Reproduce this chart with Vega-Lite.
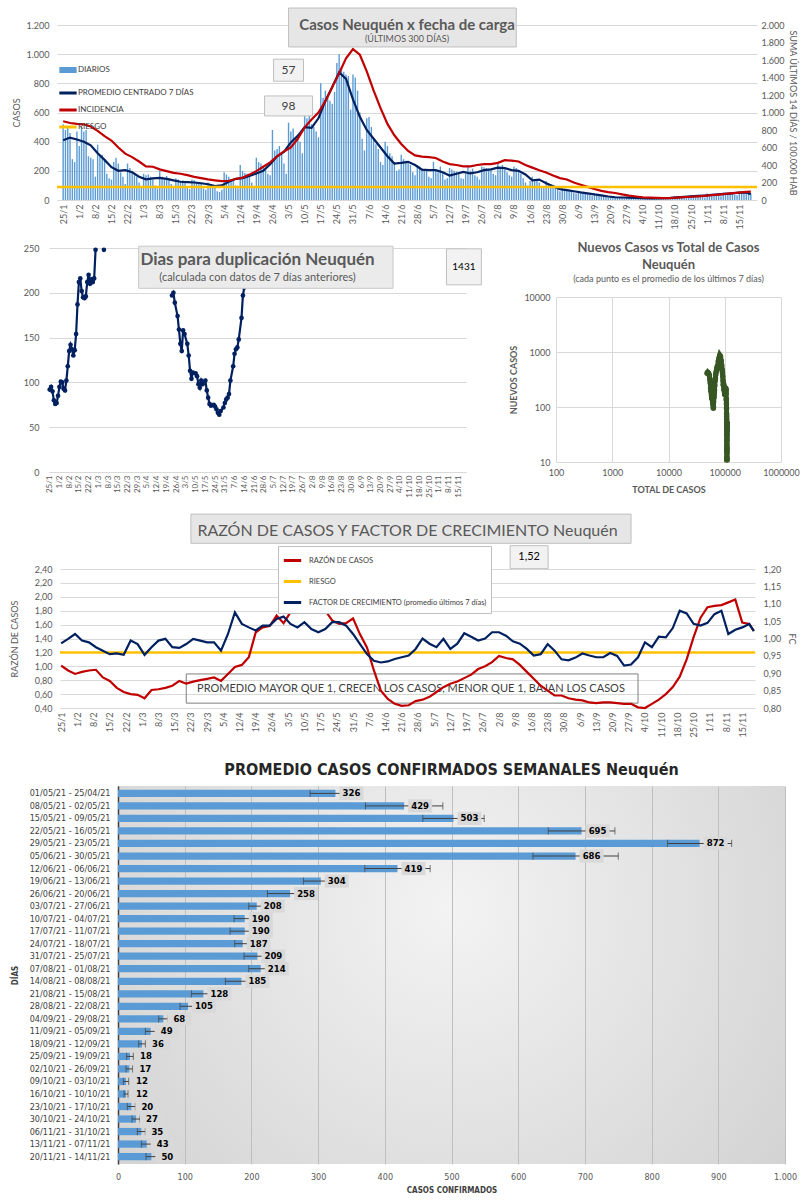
{
"$schema": "https://vega.github.io/schema/vega-lite/v6.json",
"background": "white",
"padding": {"left": 0, "top": 7, "right": 0, "bottom": 0},
"config": {
  "locale": {"number": {"decimal": ",", "thousands": ".", "grouping": [3], "currency": ["$", ""]}},
  "font": "Lato",
  "view": {"stroke": null},
  "axis": {"labelFont": "Lato", "titleFont": "Lato", "labelColor": "#595959", "titleColor": "#595959", "labelFontSize": 9, "titleFontSize": 9, "titleFontWeight": "normal", "gridColor": "#d9d9d9", "domainColor": "#d9d9d9", "ticks": false, "tickCount": 100},
  "legend": {"labelFont": "Lato"},
  "title": {"font": "Lato", "subtitleFont": "Lato", "color": "#595959", "subtitleColor": "#595959"},
  "text": {"font": "Lato"}
},
"datasets": {
"bars": [
{"d":"2021-01-25","c":520},{"d":"2021-01-26","c":480},{"d":"2021-01-27","c":500},{"d":"2021-01-28","c":460},{"d":"2021-01-29","c":280},{"d":"2021-01-30","c":260},{"d":"2021-01-31","c":470},
{"d":"2021-02-01","c":370},{"d":"2021-02-02","c":500},{"d":"2021-02-03","c":470},{"d":"2021-02-04","c":480},{"d":"2021-02-05","c":300},{"d":"2021-02-06","c":290},{"d":"2021-02-07","c":280},
{"d":"2021-02-08","c":160},{"d":"2021-02-09","c":380},{"d":"2021-02-10","c":300},{"d":"2021-02-11","c":310},{"d":"2021-02-12","c":280},{"d":"2021-02-13","c":180},{"d":"2021-02-14","c":150},
{"d":"2021-02-15","c":140},{"d":"2021-02-16","c":260},{"d":"2021-02-17","c":290},{"d":"2021-02-18","c":250},{"d":"2021-02-19","c":190},{"d":"2021-02-20","c":160},{"d":"2021-02-21","c":110},
{"d":"2021-02-22","c":250},{"d":"2021-02-23","c":220},{"d":"2021-02-24","c":200},{"d":"2021-02-25","c":170},{"d":"2021-02-26","c":160},{"d":"2021-02-27","c":120},{"d":"2021-02-28","c":90},
{"d":"2021-03-01","c":180},{"d":"2021-03-02","c":170},{"d":"2021-03-03","c":175},{"d":"2021-03-04","c":160},{"d":"2021-03-05","c":140},{"d":"2021-03-06","c":100},{"d":"2021-03-07","c":80},
{"d":"2021-03-08","c":200},{"d":"2021-03-09","c":160},{"d":"2021-03-10","c":150},{"d":"2021-03-11","c":165},{"d":"2021-03-12","c":150},{"d":"2021-03-13","c":110},{"d":"2021-03-14","c":90},
{"d":"2021-03-15","c":150},{"d":"2021-03-16","c":140},{"d":"2021-03-17","c":130},{"d":"2021-03-18","c":135},{"d":"2021-03-19","c":120},{"d":"2021-03-20","c":95},{"d":"2021-03-21","c":75},
{"d":"2021-03-22","c":140},{"d":"2021-03-23","c":135},{"d":"2021-03-24","c":125},{"d":"2021-03-25","c":120},{"d":"2021-03-26","c":110},{"d":"2021-03-27","c":80},{"d":"2021-03-28","c":70},
{"d":"2021-03-29","c":120},{"d":"2021-03-30","c":110},{"d":"2021-03-31","c":105},{"d":"2021-04-01","c":90},{"d":"2021-04-02","c":60},{"d":"2021-04-03","c":55},{"d":"2021-04-04","c":70},
{"d":"2021-04-05","c":190},{"d":"2021-04-06","c":175},{"d":"2021-04-07","c":160},{"d":"2021-04-08","c":130},{"d":"2021-04-09","c":140},{"d":"2021-04-10","c":100},{"d":"2021-04-11","c":80},
{"d":"2021-04-12","c":240},{"d":"2021-04-13","c":200},{"d":"2021-04-14","c":185},{"d":"2021-04-15","c":180},{"d":"2021-04-16","c":160},{"d":"2021-04-17","c":120},{"d":"2021-04-18","c":90},
{"d":"2021-04-19","c":290},{"d":"2021-04-20","c":260},{"d":"2021-04-21","c":250},{"d":"2021-04-22","c":230},{"d":"2021-04-23","c":220},{"d":"2021-04-24","c":180},{"d":"2021-04-25","c":170},
{"d":"2021-04-26","c":480},{"d":"2021-04-27","c":340},{"d":"2021-04-28","c":350},{"d":"2021-04-29","c":370},{"d":"2021-04-30","c":320},{"d":"2021-05-01","c":250},{"d":"2021-05-02","c":180},
{"d":"2021-05-03","c":530},{"d":"2021-05-04","c":470},{"d":"2021-05-05","c":490},{"d":"2021-05-06","c":420},{"d":"2021-05-07","c":450},{"d":"2021-05-08","c":400},{"d":"2021-05-09","c":320},
{"d":"2021-05-10","c":600},{"d":"2021-05-11","c":560},{"d":"2021-05-12","c":580},{"d":"2021-05-13","c":520},{"d":"2021-05-14","c":500},{"d":"2021-05-15","c":470},{"d":"2021-05-16","c":430},
{"d":"2021-05-17","c":800},{"d":"2021-05-18","c":700},{"d":"2021-05-19","c":750},{"d":"2021-05-20","c":720},{"d":"2021-05-21","c":680},{"d":"2021-05-22","c":660},{"d":"2021-05-23","c":740},
{"d":"2021-05-24","c":940},{"d":"2021-05-25","c":1000},{"d":"2021-05-26","c":910},{"d":"2021-05-27","c":880},{"d":"2021-05-28","c":860},{"d":"2021-05-29","c":850},{"d":"2021-05-30","c":620},
{"d":"2021-05-31","c":860},{"d":"2021-06-01","c":840},{"d":"2021-06-02","c":750},{"d":"2021-06-03","c":600},{"d":"2021-06-04","c":420},{"d":"2021-06-05","c":340},{"d":"2021-06-06","c":560},
{"d":"2021-06-07","c":570},{"d":"2021-06-08","c":500},{"d":"2021-06-09","c":420},{"d":"2021-06-10","c":380},{"d":"2021-06-11","c":350},{"d":"2021-06-12","c":260},{"d":"2021-06-13","c":240},
{"d":"2021-06-14","c":400},{"d":"2021-06-15","c":370},{"d":"2021-06-16","c":320},{"d":"2021-06-17","c":300},{"d":"2021-06-18","c":260},{"d":"2021-06-19","c":200},{"d":"2021-06-20","c":210},
{"d":"2021-06-21","c":310},{"d":"2021-06-22","c":280},{"d":"2021-06-23","c":270},{"d":"2021-06-24","c":250},{"d":"2021-06-25","c":240},{"d":"2021-06-26","c":190},{"d":"2021-06-27","c":170},
{"d":"2021-06-28","c":240},{"d":"2021-06-29","c":230},{"d":"2021-06-30","c":215},{"d":"2021-07-01","c":210},{"d":"2021-07-02","c":200},{"d":"2021-07-03","c":160},{"d":"2021-07-04","c":150},
{"d":"2021-07-05","c":260},{"d":"2021-07-06","c":210},{"d":"2021-07-07","c":190},{"d":"2021-07-08","c":230},{"d":"2021-07-09","c":185},{"d":"2021-07-10","c":140},{"d":"2021-07-11","c":150},
{"d":"2021-07-12","c":220},{"d":"2021-07-13","c":210},{"d":"2021-07-14","c":200},{"d":"2021-07-15","c":195},{"d":"2021-07-16","c":190},{"d":"2021-07-17","c":150},{"d":"2021-07-18","c":145},
{"d":"2021-07-19","c":180},{"d":"2021-07-20","c":240},{"d":"2021-07-21","c":200},{"d":"2021-07-22","c":215},{"d":"2021-07-23","c":170},{"d":"2021-07-24","c":160},{"d":"2021-07-25","c":140},
{"d":"2021-07-26","c":230},{"d":"2021-07-27","c":225},{"d":"2021-07-28","c":220},{"d":"2021-07-29","c":215},{"d":"2021-07-30","c":205},{"d":"2021-07-31","c":180},{"d":"2021-08-01","c":170},
{"d":"2021-08-02","c":250},{"d":"2021-08-03","c":220},{"d":"2021-08-04","c":240},{"d":"2021-08-05","c":210},{"d":"2021-08-06","c":190},{"d":"2021-08-07","c":170},{"d":"2021-08-08","c":160},
{"d":"2021-08-09","c":230},{"d":"2021-08-10","c":220},{"d":"2021-08-11","c":200},{"d":"2021-08-12","c":180},{"d":"2021-08-13","c":150},{"d":"2021-08-14","c":120},{"d":"2021-08-15","c":100},
{"d":"2021-08-16","c":130},{"d":"2021-08-17","c":160},{"d":"2021-08-18","c":140},{"d":"2021-08-19","c":130},{"d":"2021-08-20","c":120},{"d":"2021-08-21","c":95},{"d":"2021-08-22","c":85},
{"d":"2021-08-23","c":130},{"d":"2021-08-24","c":115},{"d":"2021-08-25","c":110},{"d":"2021-08-26","c":105},{"d":"2021-08-27","c":90},{"d":"2021-08-28","c":75},{"d":"2021-08-29","c":60},
{"d":"2021-08-30","c":80},{"d":"2021-08-31","c":75},{"d":"2021-09-01","c":70},{"d":"2021-09-02","c":65},{"d":"2021-09-03","c":60},{"d":"2021-09-04","c":50},{"d":"2021-09-05","c":45},
{"d":"2021-09-06","c":60},{"d":"2021-09-07","c":55},{"d":"2021-09-08","c":50},{"d":"2021-09-09","c":48},{"d":"2021-09-10","c":45},{"d":"2021-09-11","c":35},{"d":"2021-09-12","c":30},
{"d":"2021-09-13","c":45},{"d":"2021-09-14","c":40},{"d":"2021-09-15","c":36},{"d":"2021-09-16","c":33},{"d":"2021-09-17","c":30},{"d":"2021-09-18","c":22},{"d":"2021-09-19","c":18},
{"d":"2021-09-20","c":24},{"d":"2021-09-21","c":22},{"d":"2021-09-22","c":19},{"d":"2021-09-23","c":18},{"d":"2021-09-24","c":16},{"d":"2021-09-25","c":12},{"d":"2021-09-26","c":10},
{"d":"2021-09-27","c":22},{"d":"2021-09-28","c":20},{"d":"2021-09-29","c":18},{"d":"2021-09-30","c":16},{"d":"2021-10-01","c":14},{"d":"2021-10-02","c":10},{"d":"2021-10-03","c":9},
{"d":"2021-10-04","c":16},{"d":"2021-10-05","c":14},{"d":"2021-10-06","c":13},{"d":"2021-10-07","c":12},{"d":"2021-10-08","c":11},{"d":"2021-10-09","c":8},{"d":"2021-10-10","c":7},
{"d":"2021-10-11","c":10},{"d":"2021-10-12","c":15},{"d":"2021-10-13","c":14},{"d":"2021-10-14","c":13},{"d":"2021-10-15","c":12},{"d":"2021-10-16","c":9},{"d":"2021-10-17","c":10},
{"d":"2021-10-18","c":25},{"d":"2021-10-19","c":24},{"d":"2021-10-20","c":22},{"d":"2021-10-21","c":21},{"d":"2021-10-22","c":19},{"d":"2021-10-23","c":15},{"d":"2021-10-24","c":14},
{"d":"2021-10-25","c":34},{"d":"2021-10-26","c":32},{"d":"2021-10-27","c":30},{"d":"2021-10-28","c":28},{"d":"2021-10-29","c":26},{"d":"2021-10-30","c":20},{"d":"2021-10-31","c":18},
{"d":"2021-11-01","c":44},{"d":"2021-11-02","c":42},{"d":"2021-11-03","c":38},{"d":"2021-11-04","c":36},{"d":"2021-11-05","c":34},{"d":"2021-11-06","c":28},{"d":"2021-11-07","c":25},
{"d":"2021-11-08","c":54},{"d":"2021-11-09","c":52},{"d":"2021-11-10","c":48},{"d":"2021-11-11","c":45},{"d":"2021-11-12","c":42},{"d":"2021-11-13","c":35},{"d":"2021-11-14","c":32},
{"d":"2021-11-15","c":60},{"d":"2021-11-16","c":58},{"d":"2021-11-17","c":54},{"d":"2021-11-18","c":50},{"d":"2021-11-19","c":46},{"d":"2021-11-20","c":40}
],
"ser": [
{"d":"2021-01-25","p":410,"i":900,"t":48400,"r":1.01,"f":0.986},
{"d":"2021-01-28","p":428,"i":880,"t":49660,"r":0.94,"f":0.999},
{"d":"2021-01-31","p":415,"i":870,"t":50920,"r":0.89,"f":1.013},
{"d":"2021-02-03","p":400,"i":865,"t":52140,"r":0.92,"f":0.994},
{"d":"2021-02-06","p":375,"i":840,"t":53310,"r":0.94,"f":0.989},
{"d":"2021-02-09","p":320,"i":790,"t":54350,"r":0.95,"f":0.975},
{"d":"2021-02-12","p":275,"i":730,"t":55240,"r":0.84,"f":0.965},
{"d":"2021-02-15","p":225,"i":680,"t":55990,"r":0.79,"f":0.955},
{"d":"2021-02-18","p":200,"i":600,"t":56630,"r":0.69,"f":0.957},
{"d":"2021-02-21","p":205,"i":530,"t":57240,"r":0.63,"f":0.953},
{"d":"2021-02-24","p":190,"i":490,"t":57830,"r":0.60,"f":0.994},
{"d":"2021-02-27","p":160,"i":440,"t":58360,"r":0.59,"f":0.984},
{"d":"2021-03-02","p":142,"i":385,"t":58810,"r":0.54,"f":0.953},
{"d":"2021-03-05","p":148,"i":380,"t":59240,"r":0.66,"f":0.975},
{"d":"2021-03-08","p":152,"i":350,"t":59690,"r":0.67,"f":0.994},
{"d":"2021-03-11","p":145,"i":330,"t":60140,"r":0.69,"f":0.999},
{"d":"2021-03-14","p":135,"i":310,"t":60560,"r":0.72,"f":0.975},
{"d":"2021-03-17","p":125,"i":300,"t":60950,"r":0.79,"f":0.973},
{"d":"2021-03-20","p":122,"i":285,"t":61320,"r":0.75,"f":0.984},
{"d":"2021-03-23","p":120,"i":265,"t":61680,"r":0.78,"f":0.999},
{"d":"2021-03-26","p":115,"i":250,"t":62040,"r":0.80,"f":0.994},
{"d":"2021-03-29","p":108,"i":235,"t":62370,"r":0.82,"f":0.989},
{"d":"2021-04-01","p":95,"i":225,"t":62680,"r":0.84,"f":0.989},
{"d":"2021-04-04","p":100,"i":215,"t":62970,"r":0.79,"f":0.965},
{"d":"2021-04-07","p":125,"i":220,"t":63310,"r":0.89,"f":1.013},
{"d":"2021-04-10","p":145,"i":240,"t":63710,"r":0.99,"f":1.075},
{"d":"2021-04-13","p":150,"i":255,"t":64160,"r":1.02,"f":1.042},
{"d":"2021-04-16","p":165,"i":290,"t":64630,"r":1.13,"f":1.032},
{"d":"2021-04-19","p":182,"i":330,"t":65150,"r":1.49,"f":1.023},
{"d":"2021-04-22","p":200,"i":380,"t":65720,"r":1.56,"f":1.037},
{"d":"2021-04-25","p":245,"i":430,"t":66390,"r":1.58,"f":1.037},
{"d":"2021-04-28","p":300,"i":500,"t":67210,"r":1.73,"f":1.056},
{"d":"2021-05-01","p":330,"i":555,"t":68150,"r":1.62,"f":1.063},
{"d":"2021-05-04","p":395,"i":600,"t":69240,"r":1.78,"f":1.042},
{"d":"2021-05-07","p":440,"i":700,"t":70490,"r":1.90,"f":1.032},
{"d":"2021-05-10","p":500,"i":830,"t":71900,"r":1.95,"f":1.047},
{"d":"2021-05-13","p":495,"i":920,"t":73400,"r":1.82,"f":1.027},
{"d":"2021-05-16","p":560,"i":1000,"t":74980,"r":1.78,"f":1.018},
{"d":"2021-05-19","p":680,"i":1130,"t":76840,"r":1.80,"f":1.027},
{"d":"2021-05-22","p":775,"i":1290,"t":79020,"r":1.66,"f":1.047},
{"d":"2021-05-25","p":875,"i":1450,"t":81500,"r":1.61,"f":1.047},
{"d":"2021-05-28","p":830,"i":1620,"t":84060,"r":1.62,"f":1.037},
{"d":"2021-05-31","p":690,"i":1725,"t":86340,"r":1.69,"f":1.013},
{"d":"2021-06-03","p":570,"i":1660,"t":88230,"r":1.46,"f":0.984},
{"d":"2021-06-06","p":480,"i":1470,"t":89800,"r":1.27,"f":0.955},
{"d":"2021-06-09","p":420,"i":1250,"t":91150,"r":0.94,"f":0.936},
{"d":"2021-06-12","p":360,"i":1050,"t":92320,"r":0.65,"f":0.931},
{"d":"2021-06-15","p":300,"i":870,"t":93310,"r":0.53,"f":0.934},
{"d":"2021-06-18","p":250,"i":740,"t":94140,"r":0.46,"f":0.941},
{"d":"2021-06-21","p":255,"i":640,"t":94890,"r":0.43,"f":0.946},
{"d":"2021-06-24","p":262,"i":560,"t":95670,"r":0.44,"f":0.951},
{"d":"2021-06-27","p":240,"i":510,"t":96420,"r":0.50,"f":0.970},
{"d":"2021-06-30","p":208,"i":495,"t":97090,"r":0.52,"f":1.000},
{"d":"2021-07-03","p":205,"i":490,"t":97710,"r":0.56,"f":0.985},
{"d":"2021-07-06","p":205,"i":480,"t":98330,"r":0.63,"f":0.975},
{"d":"2021-07-09","p":190,"i":440,"t":98920,"r":0.70,"f":0.999},
{"d":"2021-07-12","p":168,"i":410,"t":99460,"r":0.75,"f":0.970},
{"d":"2021-07-15","p":180,"i":400,"t":99980,"r":0.78,"f":0.985},
{"d":"2021-07-18","p":192,"i":385,"t":100540,"r":0.83,"f":1.015},
{"d":"2021-07-21","p":182,"i":385,"t":101100,"r":0.88,"f":1.005},
{"d":"2021-07-24","p":190,"i":400,"t":101660,"r":0.96,"f":0.994},
{"d":"2021-07-27","p":205,"i":410,"t":102250,"r":1.00,"f":1.000},
{"d":"2021-07-30","p":210,"i":410,"t":102870,"r":1.06,"f":1.018},
{"d":"2021-08-02","p":222,"i":425,"t":103520,"r":1.15,"f":1.018},
{"d":"2021-08-05","p":218,"i":455,"t":104180,"r":1.12,"f":1.008},
{"d":"2021-08-08","p":205,"i":450,"t":104820,"r":1.10,"f":0.992},
{"d":"2021-08-11","p":200,"i":440,"t":105430,"r":1.02,"f":0.985},
{"d":"2021-08-14","p":175,"i":400,"t":105990,"r":0.92,"f":0.970},
{"d":"2021-08-17","p":135,"i":370,"t":106450,"r":0.82,"f":0.951},
{"d":"2021-08-20","p":140,"i":340,"t":106870,"r":0.72,"f":0.955},
{"d":"2021-08-23","p":115,"i":315,"t":107250,"r":0.65,"f":0.984},
{"d":"2021-08-26","p":95,"i":280,"t":107560,"r":0.58,"f":0.965},
{"d":"2021-08-29","p":75,"i":250,"t":107820,"r":0.58,"f":0.940},
{"d":"2021-09-01","p":68,"i":235,"t":108030,"r":0.54,"f":0.937},
{"d":"2021-09-04","p":60,"i":200,"t":108230,"r":0.52,"f":0.945},
{"d":"2021-09-07","p":52,"i":175,"t":108390,"r":0.51,"f":0.957},
{"d":"2021-09-10","p":46,"i":150,"t":108540,"r":0.48,"f":0.951},
{"d":"2021-09-13","p":38,"i":125,"t":108670,"r":0.47,"f":0.946},
{"d":"2021-09-16","p":32,"i":105,"t":108770,"r":0.48,"f":0.946},
{"d":"2021-09-19","p":24,"i":90,"t":108860,"r":0.48,"f":0.958},
{"d":"2021-09-22","p":19,"i":80,"t":108920,"r":0.47,"f":0.950},
{"d":"2021-09-25","p":17,"i":65,"t":108980,"r":0.46,"f":0.922},
{"d":"2021-09-28","p":16,"i":50,"t":109030,"r":0.46,"f":0.925},
{"d":"2021-10-01","p":15,"i":40,"t":109070,"r":0.41,"f":0.946},
{"d":"2021-10-04","p":12,"i":30,"t":109110,"r":0.40,"f":0.989},
{"d":"2021-10-07","p":11,"i":27,"t":109150,"r":0.46,"f":0.975},
{"d":"2021-10-10","p":11,"i":25,"t":109180,"r":0.52,"f":1.005},
{"d":"2021-10-13","p":12,"i":22,"t":109220,"r":0.60,"f":1.003},
{"d":"2021-10-16","p":14,"i":22,"t":109260,"r":0.70,"f":1.030},
{"d":"2021-10-19","p":18,"i":27,"t":109300,"r":0.85,"f":1.080},
{"d":"2021-10-22","p":21,"i":32,"t":109360,"r":1.10,"f":1.072},
{"d":"2021-10-25","p":25,"i":37,"t":109430,"r":1.42,"f":1.042},
{"d":"2021-10-28","p":28,"i":42,"t":109510,"r":1.70,"f":1.037},
{"d":"2021-10-31","p":31,"i":48,"t":109600,"r":1.85,"f":1.045},
{"d":"2021-11-03","p":35,"i":55,"t":109700,"r":1.87,"f":1.070},
{"d":"2021-11-06","p":38,"i":62,"t":109810,"r":1.88,"f":1.080},
{"d":"2021-11-09","p":42,"i":70,"t":109930,"r":1.92,"f":1.013},
{"d":"2021-11-12","p":46,"i":78,"t":110060,"r":1.96,"f":1.025},
{"d":"2021-11-15","p":50,"i":85,"t":110210,"r":1.63,"f":1.032},
{"d":"2021-11-18","p":52,"i":92,"t":110360,"r":1.61,"f":1.042},
{"d":"2021-11-20","p":40,"i":95,"t":110450,"r":1.51,"f":1.021}
],
"dup": [
{"d":"2021-01-25","v":92,"s":1},{"d":"2021-01-26","v":95,"s":1},{"d":"2021-01-27","v":90,"s":1},{"d":"2021-01-28","v":80,"s":1},{"d":"2021-01-29","v":76,"s":1},{"d":"2021-01-30","v":77,"s":1},{"d":"2021-01-31","v":85,"s":1},
{"d":"2021-02-01","v":95,"s":1},{"d":"2021-02-02","v":101,"s":1},{"d":"2021-02-03","v":100,"s":1},{"d":"2021-02-04","v":93,"s":1},{"d":"2021-02-05","v":91,"s":1},{"d":"2021-02-06","v":102,"s":1},{"d":"2021-02-07","v":118,"s":1},
{"d":"2021-02-08","v":135,"s":1},{"d":"2021-02-09","v":142,"s":1},{"d":"2021-02-10","v":137,"s":1},{"d":"2021-02-11","v":130,"s":1},{"d":"2021-02-12","v":136,"s":1},{"d":"2021-02-13","v":154,"s":1},{"d":"2021-02-14","v":187,"s":1},
{"d":"2021-02-15","v":212,"s":1},{"d":"2021-02-16","v":216,"s":1},{"d":"2021-02-17","v":202,"s":1},{"d":"2021-02-18","v":195,"s":1},{"d":"2021-02-19","v":194,"s":1},{"d":"2021-02-20","v":196,"s":1},{"d":"2021-02-21","v":212,"s":1},
{"d":"2021-02-22","v":220,"s":1},{"d":"2021-02-23","v":210,"s":1},{"d":"2021-02-24","v":215,"s":1},{"d":"2021-02-25","v":212,"s":1},{"d":"2021-02-26","v":216,"s":1},{"d":"2021-02-27","v":248,"s":1},
{"d":"2021-03-05","v":248,"s":3},
{"d":"2021-04-23","v":197,"s":2},{"d":"2021-04-24","v":200,"s":2},{"d":"2021-04-25","v":189,"s":2},{"d":"2021-04-27","v":174,"s":2},{"d":"2021-04-28","v":159,"s":2},{"d":"2021-04-29","v":143,"s":2},{"d":"2021-04-30","v":135,"s":2},
{"d":"2021-05-01","v":158,"s":2},{"d":"2021-05-02","v":154,"s":2},{"d":"2021-05-04","v":143,"s":2},{"d":"2021-05-05","v":130,"s":2},{"d":"2021-05-06","v":113,"s":2},{"d":"2021-05-07","v":104,"s":2},{"d":"2021-05-08","v":111,"s":2},
{"d":"2021-05-10","v":110,"s":2},{"d":"2021-05-11","v":107,"s":2},{"d":"2021-05-12","v":98,"s":2},{"d":"2021-05-13","v":94,"s":2},{"d":"2021-05-14","v":102,"s":2},{"d":"2021-05-15","v":98,"s":2},{"d":"2021-05-17","v":102,"s":2},
{"d":"2021-05-18","v":91,"s":2},{"d":"2021-05-19","v":83,"s":2},{"d":"2021-05-20","v":76,"s":2},{"d":"2021-05-21","v":74,"s":2},{"d":"2021-05-23","v":75,"s":2},{"d":"2021-05-24","v":73,"s":2},{"d":"2021-05-25","v":70,"s":2},
{"d":"2021-05-26","v":66,"s":2},{"d":"2021-05-27","v":64,"s":2},{"d":"2021-05-28","v":68,"s":2},{"d":"2021-05-30","v":72,"s":2},{"d":"2021-05-31","v":77,"s":2},{"d":"2021-06-01","v":81,"s":2},{"d":"2021-06-02","v":83,"s":2},
{"d":"2021-06-03","v":87,"s":2},{"d":"2021-06-04","v":102,"s":2},{"d":"2021-06-06","v":118,"s":2},{"d":"2021-06-07","v":132,"s":2},{"d":"2021-06-08","v":137,"s":2},{"d":"2021-06-09","v":139,"s":2},{"d":"2021-06-10","v":148,"s":2},
{"d":"2021-06-12","v":172,"s":2},{"d":"2021-06-13","v":197,"s":2},{"d":"2021-06-14","v":206,"s":2}
],
"weekly": [
{"s":"01/05/21 - 25/04/21","v":326,"e":38},{"s":"08/05/21 - 02/05/21","v":429,"e":58},{"s":"15/05/21 - 09/05/21","v":503,"e":46},
{"s":"22/05/21 - 16/05/21","v":695,"e":50},{"s":"29/05/21 - 23/05/21","v":872,"e":48},{"s":"05/06/21 - 30/05/21","v":686,"e":64},
{"s":"12/06/21 - 06/06/21","v":419,"e":49},{"s":"19/06/21 - 13/06/21","v":304,"e":26},{"s":"26/06/21 - 20/06/21","v":258,"e":34},
{"s":"03/07/21 - 27/06/21","v":208,"e":12},{"s":"10/07/21 - 04/07/21","v":190,"e":16},{"s":"17/07/21 - 11/07/21","v":190,"e":22},
{"s":"24/07/21 - 18/07/21","v":187,"e":12},{"s":"31/07/21 - 25/07/21","v":209,"e":20},{"s":"07/08/21 - 01/08/21","v":214,"e":18},
{"s":"14/08/21 - 08/08/21","v":185,"e":24},{"s":"21/08/21 - 15/08/21","v":128,"e":18},{"s":"28/08/21 - 22/08/21","v":105,"e":12},
{"s":"04/09/21 - 29/08/21","v":68,"e":7},{"s":"11/09/21 - 05/09/21","v":49,"e":8},{"s":"18/09/21 - 12/09/21","v":36,"e":5},
{"s":"25/09/21 - 19/09/21","v":18,"e":5},{"s":"02/10/21 - 26/09/21","v":17,"e":5},{"s":"09/10/21 - 03/10/21","v":12,"e":4},
{"s":"16/10/21 - 10/10/21","v":12,"e":3},{"s":"23/10/21 - 17/10/21","v":20,"e":6},{"s":"30/10/21 - 24/10/21","v":27,"e":6},
{"s":"06/11/21 - 31/10/21","v":35,"e":6},{"s":"13/11/21 - 07/11/21","v":43,"e":8},{"s":"20/11/21 - 14/11/21","v":50,"e":8}
]
},
"vconcat": [
{
 "hconcat": [
  {"width": 1, "height": 1, "data": {"values": [{}]}, "mark": {"type": "point", "opacity": 0, "size": 1}, "encoding": {}},
  {
  "width": 700, "height": 175,
  "title": {"text": "Casos  Neuquén x fecha de carga", "subtitle": "(ÚLTIMOS 300 DÍAS)", "fontSize": 15, "fontWeight": "bold", "subtitleFontSize": 9, "subtitlePadding": 2, "offset": -36},
  "layer": [
    {"layer": [
      {"data": {"name": "bars"}, "mark": {"type": "bar", "width": 1.4, "color": "#5b9bd5"},
       "encoding": {
         "x": {"field": "d", "type": "temporal", "scale": {"type": "utc", "domain": [1611489600000, 1637409600000]},
               "axis": {"values": [1611532800000,1612137600000,1612742400000,1613347200000,1613952000000,1614556800000,1615161600000,1615766400000,1616371200000,1616976000000,1617580800000,1618185600000,1618790400000,1619395200000,1620000000000,1620604800000,1621209600000,1621814400000,1622419200000,1623024000000,1623628800000,1624233600000,1624838400000,1625443200000,1626048000000,1626652800000,1627257600000,1627862400000,1628467200000,1629072000000,1629676800000,1630281600000,1630886400000,1631491200000,1632096000000,1632700800000,1633305600000,1633910400000,1634515200000,1635120000000,1635724800000,1636329600000,1636934400000],
                        "tickCount": 100, "labelExpr": "utcFormat(datum.value, '%-d/%-m')", "labelAngle": -90, "labelOverlap": false, "labelFlush": false, "labelBound": false, "grid": false, "domain": false, "title": null, "labelPadding": 4, "minExtent": 27}},
         "y": {"field": "c", "type": "quantitative", "scale": {"domain": [0, 1200], "nice": false},
               "axis": {"orient": "left", "title": "CASOS", "values": [0,200,400,600,800,1000,1200], "tickCount": 100, "labelOverlap": false, "format": ",d", "grid": true, "domain": false, "labelPadding": 8, "minExtent": 30, "titlePadding": 4}}
       }},
      {"data": {"name": "ser"}, "mark": {"type": "line", "strokeWidth": 2.2},
       "encoding": {
         "x": {"field": "d", "type": "temporal"},
         "y": {"field": "p", "type": "quantitative"},
         "color": {"datum": "PROMEDIO CENTRADO 7 DÍAS",
                   "scale": {"domain": ["DIARIOS", "PROMEDIO CENTRADO 7 DÍAS", "INCIDENCIA", "RIESGO"], "range": ["#5b9bd5", "#002060", "#c00000", "#ffc000"]},
                   "legend": {"orient": "none", "legendX": 7, "legendY": 41, "title": null, "symbolType": "stroke", "symbolSize": 300, "symbolStrokeWidth": 3, "labelFontSize": 8, "labelColor": "#404040", "rowPadding": 5, "labelOffset": 6, "labelLimit": 300,
                              "encode": {"symbols": {"update": {"strokeWidth": {"signal": "datum.value === 'DIARIOS' ? 6 : 3"}}}}}}
       }},
      {"data": {"values": [{}]}, "mark": {"type": "point", "shape": "M-1.36,-1H1.36V1H-1.36Z", "size": 484, "filled": true, "fill": "#f2f2f2", "stroke": "#bfbfbf", "strokeWidth": 1, "opacity": 1},
       "encoding": {"x": {"datum": 1620000000000, "type": "temporal"}, "y": {"datum": 890, "type": "quantitative"}}},
      {"data": {"values": [{}]}, "mark": {"type": "text", "text": "57", "fontSize": 12, "color": "#404040"},
       "encoding": {"x": {"datum": 1620000000000, "type": "temporal"}, "y": {"datum": 890, "type": "quantitative"}}},
      {"data": {"values": [{}]}, "mark": {"type": "point", "shape": "M-2.4,-1H2.4V1H-2.4Z", "size": 400, "filled": true, "fill": "#f2f2f2", "stroke": "#bfbfbf", "strokeWidth": 1, "opacity": 1},
       "encoding": {"x": {"datum": 1620000000000, "type": "temporal"}, "y": {"datum": 645, "type": "quantitative"}}},
      {"data": {"values": [{}]}, "mark": {"type": "text", "text": "98", "fontSize": 12, "color": "#404040"},
       "encoding": {"x": {"datum": 1620000000000, "type": "temporal"}, "y": {"datum": 645, "type": "quantitative"}}}
    ]},
    {"layer": [
      {"data": {"name": "ser"}, "mark": {"type": "line", "strokeWidth": 2.2},
       "encoding": {
         "x": {"field": "d", "type": "temporal"},
         "y": {"field": "i", "type": "quantitative", "scale": {"domain": [0, 2000], "nice": false},
               "axis": {"orient": "right", "title": "SUMA  ÚLTIMOS 14 DÍAS / 100.000 HAB", "values": [0,200,400,600,800,1000,1200,1400,1600,1800,2000], "tickCount": 100, "labelOverlap": false, "format": ",d", "grid": false, "domain": false, "labelPadding": 4, "titlePadding": 3}},
         "color": {"datum": "INCIDENCIA"}
       }},
      {"data": {"values": [{}]}, "mark": {"type": "rule", "strokeWidth": 2.5},
       "encoding": {"y": {"datum": 150, "type": "quantitative"}, "color": {"datum": "RIESGO"}}},
      {"data": {"values": [{}]}, "mark": {"type": "rect", "fill": "#e7e6e6", "stroke": "#bfbfbf", "strokeWidth": 1},
       "encoding": {"x": {"datum": 1620000000000, "type": "temporal"}, "x2": {"datum": 1628553600000}, "y": {"datum": 2194, "type": "quantitative"}, "y2": {"datum": 1749}}}
    ]}
  ],
  "resolve": {"scale": {"y": "independent"}}
  }
 ],
 "spacing": 11,
 "resolve": {"scale": {"x": "independent", "y": "independent", "color": "independent"}}
},
{
 "hconcat": [
  {"width": 1, "height": 1, "data": {"values": [{}]}, "mark": {"type": "point", "opacity": 0, "size": 1}, "encoding": {}},
  {
   "hconcat": [
    {
     "vconcat": [
      {"width": 1, "height": 1, "data": {"values": [{}]}, "mark": {"type": "point", "opacity": 0, "size": 1}, "encoding": {}},
      {
      "width": 417, "height": 224,
      "title": {"text": "Dias para duplicación Neuquén", "subtitle": "(calculada con datos de 7 días anteriores)", "fontSize": 17, "fontWeight": "bold", "subtitleFontSize": 11, "subtitlePadding": 3, "offset": -40},
      "layer": [
        {"data": {"name": "dup"}, "mark": {"type": "line", "strokeWidth": 2.2, "color": "#002060"},
         "encoding": {
           "x": {"field": "d", "type": "temporal", "scale": {"type": "utc", "domain": [1611489600000, 1637409600000]},
                 "axis": {"values": [1611532800000,1612137600000,1612742400000,1613347200000,1613952000000,1614556800000,1615161600000,1615766400000,1616371200000,1616976000000,1617580800000,1618185600000,1618790400000,1619395200000,1620000000000,1620604800000,1621209600000,1621814400000,1622419200000,1623024000000,1623628800000,1624233600000,1624838400000,1625443200000,1626048000000,1626652800000,1627257600000,1627862400000,1628467200000,1629072000000,1629676800000,1630281600000,1630886400000,1631491200000,1632096000000,1632700800000,1633305600000,1633910400000,1634515200000,1635120000000,1635724800000,1636329600000,1636934400000],
                          "tickCount": 100, "labelExpr": "utcFormat(datum.value, '%-d/%-m')", "labelAngle": -90, "labelFontSize": 8, "labelOverlap": false, "labelFlush": false, "labelBound": false, "grid": false, "domain": true, "title": null, "labelPadding": 3, "minExtent": 41}},
           "y": {"field": "v", "type": "quantitative", "scale": {"domain": [0, 250], "nice": false},
                 "axis": {"values": [0,50,100,150,200,250], "tickCount": 100, "labelOverlap": false, "title": null, "grid": true, "domain": false, "labelPadding": 10, "minExtent": 39}},
           "detail": {"field": "s", "type": "nominal"}
         }},
        {"data": {"name": "dup"}, "mark": {"type": "point", "filled": true, "size": 22, "color": "#002060", "opacity": 1},
         "encoding": {"x": {"field": "d", "type": "temporal"}, "y": {"field": "v", "type": "quantitative"}}},
        {"data": {"values": [{}]}, "mark": {"type": "rect", "fill": "#ebebeb", "stroke": "#c8c8c8", "strokeWidth": 1},
         "encoding": {"x": {"datum": 1617062400000, "type": "temporal"}, "x2": {"datum": 1632873600000}, "y": {"datum": 252, "type": "quantitative"}, "y2": {"datum": 205}}},
        {"data": {"values": [{}]}, "mark": {"type": "point", "shape": "M-0.97,-1H0.97V1H-0.97Z", "size": 1296, "filled": true, "fill": "#f2f2f2", "stroke": "#bfbfbf", "strokeWidth": 1, "opacity": 1},
         "encoding": {"x": {"datum": 1637280000000, "type": "temporal"}, "y": {"datum": 229, "type": "quantitative"}}},
        {"data": {"values": [{}]}, "mark": {"type": "text", "text": "1431", "fontSize": 10, "color": "#000000"},
         "encoding": {"x": {"datum": 1637280000000, "type": "temporal"}, "y": {"datum": 229, "type": "quantitative"}}}
      ]
      }
     ],
     "spacing": 14,
     "resolve": {"scale": {"x": "independent", "y": "independent"}}
    },
    {
     "vconcat": [
      {"width": 1, "height": 1, "data": {"values": [{}]}, "mark": {"type": "point", "opacity": 0, "size": 1}, "encoding": {}},
      {
      "width": 225, "height": 165,
      "title": {"text": ["Nuevos Casos vs Total de Casos", "Neuquén"], "subtitle": "(cada punto es el promedio de los últimos 7 días)", "fontSize": 13, "fontWeight": "bold", "lineHeight": 17, "subtitleFontSize": 9, "subtitlePadding": 3, "offset": 9},
      "data": {"name": "ser"},
      "layer": [
        {"mark": {"type": "line", "strokeWidth": 5, "color": "#375623"},
         "encoding": {
           "x": {"field": "t", "type": "quantitative", "scale": {"type": "log", "domain": [100, 1000000], "nice": false},
                 "axis": {"values": [100,1000,10000,100000,1000000], "tickCount": 100, "labelOverlap": false, "labelFlush": false, "format": "d", "title": "TOTAL DE CASOS", "titleFontWeight": "bold", "grid": true, "domain": false, "labelPadding": 6, "titlePadding": 8}},
           "y": {"field": "p", "type": "quantitative", "scale": {"type": "log", "domain": [10, 10000], "nice": false},
                 "axis": {"values": [10,100,1000,10000], "tickCount": 100, "labelOverlap": false, "labelFlush": false, "format": "d", "title": "NUEVOS CASOS", "titleFontWeight": "bold", "grid": true, "domain": false, "labelPadding": 6, "minExtent": 31, "titlePadding": 5}},
           "order": {"field": "d", "type": "temporal"}
         }},
        {"mark": {"type": "point", "filled": true, "size": 30, "color": "#375623", "opacity": 1},
         "encoding": {"x": {"field": "t", "type": "quantitative"}, "y": {"field": "p", "type": "quantitative"}}}
      ]
      }
     ],
     "spacing": 12,
     "resolve": {"scale": {"x": "independent", "y": "independent"}}
    }
   ],
   "spacing": 25,
   "resolve": {"scale": {"x": "independent", "y": "independent", "color": "independent"}}
  }
 ],
 "spacing": 9,
 "resolve": {"scale": {"x": "independent", "y": "independent", "color": "independent"}}
},
{
 "hconcat": [
  {"width": 1, "height": 1, "data": {"values": [{}]}, "mark": {"type": "point", "opacity": 0, "size": 1}, "encoding": {}},
  {
  "width": 695, "height": 139,
  "title": {"text": "RAZÓN DE CASOS Y FACTOR DE CRECIMIENTO Neuquén", "fontSize": 16, "fontWeight": "normal", "offset": -25},
  "layer": [
    {"layer": [
      {"data": {"values": [{}]}, "mark": {"type": "rect", "fill": "#e7e6e6", "stroke": "#bfbfbf", "strokeWidth": 1},
       "encoding": {"x": {"datum": 1616371200000, "type": "temporal"}, "x2": {"datum": 1632787200000}, "y": {"datum": 3.19, "type": "quantitative"}, "y2": {"datum": 2.77}}},
      {"data": {"values": [{}]}, "mark": {"type": "rect", "fill": "transparent", "stroke": "#7f7f7f", "strokeWidth": 1},
       "encoding": {"x": {"datum": 1616198400000, "type": "temporal"}, "x2": {"datum": 1633046400000}, "y": {"datum": 0.47, "type": "quantitative"}, "y2": {"datum": 0.89}}},
      {"data": {"values": [{}]}, "mark": {"type": "text", "text": "PROMEDIO MAYOR QUE 1, CRECEN LOS CASOS, MENOR QUE 1, BAJAN LOS CASOS", "fontSize": 11, "color": "#404040"},
       "encoding": {"x": {"datum": 1624579200000, "type": "temporal"}, "y": {"datum": 0.68, "type": "quantitative"}}},
      {"data": {"values": [{}]}, "mark": {"type": "rule", "strokeWidth": 2.5},
       "encoding": {"y": {"datum": 1.2, "type": "quantitative"}, "color": {"datum": "RIESGO"}}},
      {"data": {"name": "ser"}, "mark": {"type": "line", "strokeWidth": 2.2},
       "encoding": {
         "x": {"field": "d", "type": "temporal", "scale": {"type": "utc", "domain": [1611489600000, 1637409600000]},
               "axis": {"values": [1611532800000,1612137600000,1612742400000,1613347200000,1613952000000,1614556800000,1615161600000,1615766400000,1616371200000,1616976000000,1617580800000,1618185600000,1618790400000,1619395200000,1620000000000,1620604800000,1621209600000,1621814400000,1622419200000,1623024000000,1623628800000,1624233600000,1624838400000,1625443200000,1626048000000,1626652800000,1627257600000,1627862400000,1628467200000,1629072000000,1629676800000,1630281600000,1630886400000,1631491200000,1632096000000,1632700800000,1633305600000,1633910400000,1634515200000,1635120000000,1635724800000,1636329600000,1636934400000],
                        "tickCount": 100, "labelExpr": "utcFormat(datum.value, '%-d/%-m')", "labelAngle": -90, "labelOverlap": false, "labelFlush": false, "labelBound": false, "grid": false, "domain": false, "title": null, "labelPadding": 4, "minExtent": 54}},
         "y": {"field": "r", "type": "quantitative", "scale": {"domain": [0.4, 2.4], "nice": false, "zero": false},
               "axis": {"orient": "left", "title": "RAZÓN DE CASOS", "values": [0.4,0.6,0.8,1,1.2,1.4,1.6,1.8,2,2.2,2.4], "tickCount": 100, "labelOverlap": false, "format": ",.2f", "grid": true, "domain": false, "labelPadding": 8, "minExtent": 37, "titlePadding": 4}},
         "color": {"datum": "RAZÓN DE CASOS",
                   "scale": {"domain": ["RAZÓN DE CASOS", "RIESGO", "FACTOR DE CRECIMIENTO (promedio últimos 7 días)"], "range": ["#c00000", "#ffc000", "#002060"]},
                   "legend": {"orient": "none", "legendX": 218, "legendY": -23, "title": null, "symbolType": "stroke", "symbolSize": 300, "symbolStrokeWidth": 3, "labelFontSize": 7.5, "labelColor": "#404040", "rowPadding": 4, "labelOffset": 6, "labelLimit": 300, "fillColor": "#ffffff", "strokeColor": "#bfbfbf", "padding": 4}}
       }},
      {"data": {"values": [{}]}, "mark": {"type": "point", "shape": "M-1.65,-1H1.65V1H-1.65Z", "size": 529, "filled": true, "fill": "#f2f2f2", "stroke": "#bfbfbf", "strokeWidth": 1, "opacity": 1},
       "encoding": {"x": {"datum": 1628985600000, "type": "temporal"}, "y": {"datum": 2.57, "type": "quantitative"}}},
      {"data": {"values": [{}]}, "mark": {"type": "text", "text": "1,52", "fontSize": 11, "color": "#000000"},
       "encoding": {"x": {"datum": 1628985600000, "type": "temporal"}, "y": {"datum": 2.57, "type": "quantitative"}}}
    ]},
    {"layer": [
      {"data": {"name": "ser"}, "mark": {"type": "line", "strokeWidth": 2.2},
       "encoding": {
         "x": {"field": "d", "type": "temporal"},
         "y": {"field": "f", "type": "quantitative", "scale": {"domain": [0.8, 1.2], "nice": false, "zero": false},
               "axis": {"orient": "right", "title": "FC", "values": [0.8,0.85,0.9,0.95,1,1.05,1.1,1.15,1.2], "tickCount": 100, "labelOverlap": false, "format": ",.2f", "grid": false, "domain": false, "labelPadding": 8, "titlePadding": 6}},
         "color": {"datum": "FACTOR DE CRECIMIENTO (promedio últimos 7 días)"}
       }}
    ]}
  ],
  "resolve": {"scale": {"y": "independent"}}
  }
 ],
 "spacing": 9,
 "resolve": {"scale": {"x": "independent", "y": "independent", "color": "independent"}}
},
{
 "hconcat": [
  {"width": 1, "height": 1, "data": {"values": [{}]}, "mark": {"type": "point", "opacity": 0, "size": 1}, "encoding": {}},
  {
  "width": 667, "height": 378,
  "title": {"text": "PROMEDIO CASOS CONFIRMADOS SEMANALES Neuquén", "font": "DejaVu Sans Condensed, Roboto, sans-serif", "fontSize": 16, "fontWeight": "bold", "color": "#262626", "offset": 8},
  "view": {"stroke": null, "fill": {"gradient": "radial", "x1": 0.5, "y1": 0.4, "r1": 0, "x2": 0.5, "y2": 0.4, "r2": 0.75, "stops": [{"offset": 0, "color": "#f3f3f3"}, {"offset": 1, "color": "#cdcdcd"}]}},
  "data": {"name": "weekly"},
  "encoding": {
    "y": {"field": "s", "type": "nominal", "sort": null, "scale": {"paddingInner": 0.42, "paddingOuter": 0.3},
          "axis": {"title": "DÍAS", "titleFont": "DejaVu Sans Condensed, Roboto, sans-serif", "titleFontWeight": "bold", "titleFontSize": 8, "titleColor": "#404040", "labelFont": "DejaVu Sans Condensed, Roboto, sans-serif", "labelFontSize": 9, "labelColor": "#404040", "domain": true, "domainColor": "#404040", "domainWidth": 1.5, "ticks": false, "labelPadding": 8, "minExtent": 95, "titlePadding": 4}}
  },
  "layer": [
    {"mark": {"type": "bar", "color": "#5b9bd5"},
     "encoding": {"x": {"field": "v", "type": "quantitative", "title": "CASOS CONFIRMADOS", "scale": {"domain": [0, 1000], "nice": false},
                        "axis": {"values": [0,100,200,300,400,500,600,700,800,900,1000], "tickCount": 100, "labelOverlap": false, "labelFlush": false, "format": ",d", "grid": true, "gridColor": "#bfbfbf", "domain": false, "ticks": false, "labelFont": "DejaVu Sans Condensed, Roboto, sans-serif", "labelFontSize": 9, "labelPadding": 8, "title": "CASOS CONFIRMADOS", "titleFont": "DejaVu Sans Condensed, Roboto, sans-serif", "titleFontWeight": "bold", "titleFontSize": 8, "titleColor": "#404040", "titlePadding": 5}}}},
    {"mark": {"type": "errorbar", "ticks": true, "color": "#404040"},
     "encoding": {"x": {"field": "v", "type": "quantitative", "title": "CASOS CONFIRMADOS"}, "xError": {"field": "e"}}},
    {"mark": {"type": "point", "shape": "M-1,-0.55H1V0.55H-1Z", "size": 576, "filled": true, "fill": "#d9d9d9", "opacity": 1, "xOffset": 16},
     "encoding": {"x": {"field": "v", "type": "quantitative", "title": "CASOS CONFIRMADOS"}}},
    {"mark": {"type": "text", "dx": 16, "font": "DejaVu Sans Condensed, Roboto, sans-serif", "fontWeight": "bold", "fontSize": 9.5, "color": "#000000"},
     "encoding": {"x": {"field": "v", "type": "quantitative", "title": "CASOS CONFIRMADOS"}, "text": {"field": "v", "type": "quantitative"}}}
  ]
  }
 ],
 "spacing": 10,
 "resolve": {"scale": {"x": "independent", "y": "independent", "color": "independent"}}
}
],
"spacing": 0,
"resolve": {"scale": {"x": "independent", "y": "independent", "color": "independent"}}
}
